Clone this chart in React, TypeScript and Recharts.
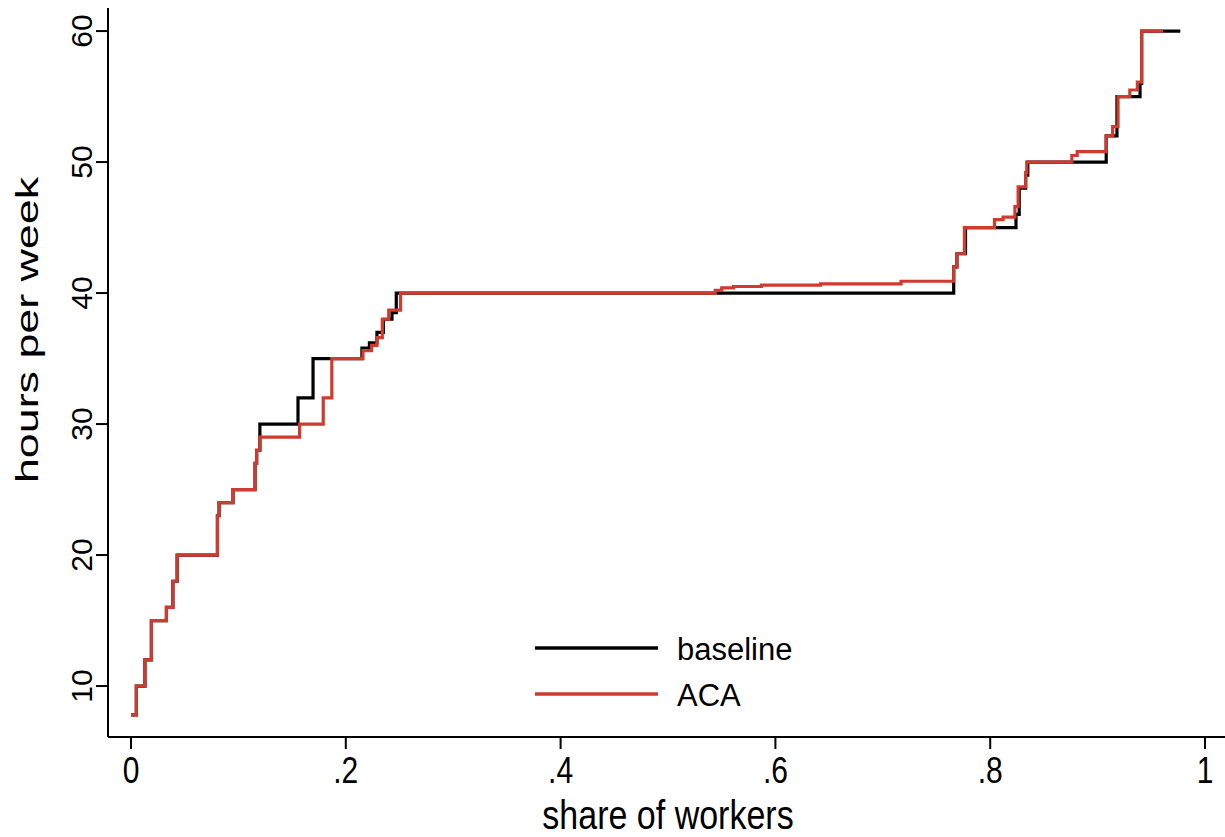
import { LineChart, Line, XAxis, YAxis, Label } from "recharts";

// share of workers (x) and hours per week (y) at each step of the distribution
const baselineX = [0, 0.005, 0.013, 0.019, 0.033, 0.039, 0.043, 0.0805, 0.082, 0.095, 0.1155, 0.117, 0.12, 0.1555, 0.1695, 0.215, 0.222, 0.229, 0.235, 0.243, 0.247, 0.766, 0.769, 0.777, 0.824, 0.827, 0.833, 0.835, 0.908, 0.918, 0.9395, 0.941, 0.977];
const baselineY = [7.8, 10, 12, 15, 16, 18, 20, 23, 24, 25, 27, 28, 30, 32, 35, 35.8, 36.2, 37, 38, 38.5, 40, 42, 43, 45, 46, 48, 49, 50, 52, 55, 56, 60, 60];

const acaX = [0, 0.005, 0.013, 0.019, 0.033, 0.039, 0.043, 0.0805, 0.082, 0.095, 0.1155, 0.117, 0.12, 0.157, 0.179, 0.187, 0.216, 0.224, 0.229, 0.234, 0.24, 0.251, 0.544, 0.55, 0.561, 0.587, 0.642, 0.717, 0.766, 0.769, 0.776, 0.804, 0.812, 0.823, 0.826, 0.833, 0.834, 0.876, 0.881, 0.908, 0.914, 0.919, 0.93, 0.937, 0.941, 0.961];
const acaY = [7.8, 10, 12, 15, 16, 18, 20, 23, 24, 25, 27, 28, 29, 30, 32, 35, 35.6, 36, 36.6, 38, 38.7, 40, 40.2, 40.4, 40.5, 40.6, 40.7, 40.9, 42, 43, 45, 45.6, 45.8, 46.6, 48.1, 49.2, 50, 50.5, 50.8, 52, 52.7, 55, 55.5, 56.1, 60, 60];

const xTicks = [0, 0.2, 0.4, 0.6, 0.8, 1];
const yTicks = [10, 20, 30, 40, 50, 60];
const seriesNames = ["baseline", "ACA"];

const baseline = baselineX.map((x, i) => ({ x, y: baselineY[i] }));
const aca = acaX.map((x, i) => ({ x, y: acaY[i] }));

const FONT = "'Liberation Sans', Arial, sans-serif";
const RED = "#cf3b2f";

const fmtX = (v: number) => (v === 0 ? "0" : v === 1 ? "1" : String(v).replace(/^0/, ""));

const XTick = (props: any) => {
  const { x, payload } = props;
  return (
    <g transform={`translate(${x}, 783) scale(1, 1.22)`}>
      <text x={0} y={0} textAnchor="middle" fontSize={30} fontFamily={FONT} fill="#000">
        {fmtX(payload.value)}
      </text>
    </g>
  );
};

const YTick = (props: any) => {
  const { y, payload } = props;
  return (
    <text x={92} y={y} transform={`rotate(-90, 92, ${y})`} textAnchor="middle" fontSize={30} fontFamily={FONT} fill="#000">
      {payload.value}
    </text>
  );
};

// legend drawn inside the plot, like the original
const LegendBox = () => (
  <g>
    <line x1={535} x2={658} y1={648} y2={648} stroke="#000" strokeWidth={3.4} />
    <text x={677} y={660} fontSize={31} fontFamily={FONT} fill="#000">{seriesNames[0]}</text>
    <line x1={535} x2={658} y1={694} y2={694} stroke={RED} strokeWidth={3.4} />
    <text x={677} y={706} fontSize={31} fontFamily={FONT} fill="#000">{seriesNames[1]}</text>
  </g>
);

export default function App() {
  return (
    <div style={{ position: "absolute", left: 0, top: 0, background: "#fff" }}>
      <LineChart width={1225} height={837} margin={{ top: 8, right: 0, bottom: 0, left: 0 }}>
        <XAxis
          type="number"
          dataKey="x"
          domain={[-0.0214, 1.0186]}
          ticks={xTicks}
          allowDataOverflow
          height={100}
          stroke="#000"
          strokeWidth={2}
          tickSize={12}
          tick={<XTick />}
        >
          <Label
            content={() => (
              <g transform="translate(668, 829) scale(1, 1.2)">
                <text x={0} y={0} textAnchor="middle" fontSize={34} fontFamily={FONT} fill="#000">
                  share of workers
                </text>
              </g>
            )}
          />
        </XAxis>
        <YAxis
          type="number"
          dataKey="y"
          domain={[6.11, 61.76]}
          ticks={yTicks}
          allowDataOverflow
          width={108}
          stroke="#000"
          strokeWidth={2}
          tickSize={12}
          tick={<YTick />}
        >
          <Label
            content={() => (
              <g transform="translate(38, 330) rotate(-90) scale(1.4, 1)">
                <text x={0} y={0} textAnchor="middle" fontSize={32} fontFamily={FONT} fill="#000">
                  hours per week
                </text>
              </g>
            )}
          />
        </YAxis>
        <Line data={baseline} dataKey="y" type="stepAfter" stroke="#000" strokeWidth={3.2} dot={false} isAnimationActive={false} />
        <Line data={aca} dataKey="y" type="stepAfter" stroke={RED} strokeWidth={3.2} dot={false} isAnimationActive={false} />
        <LegendBox />
      </LineChart>
    </div>
  );
}
